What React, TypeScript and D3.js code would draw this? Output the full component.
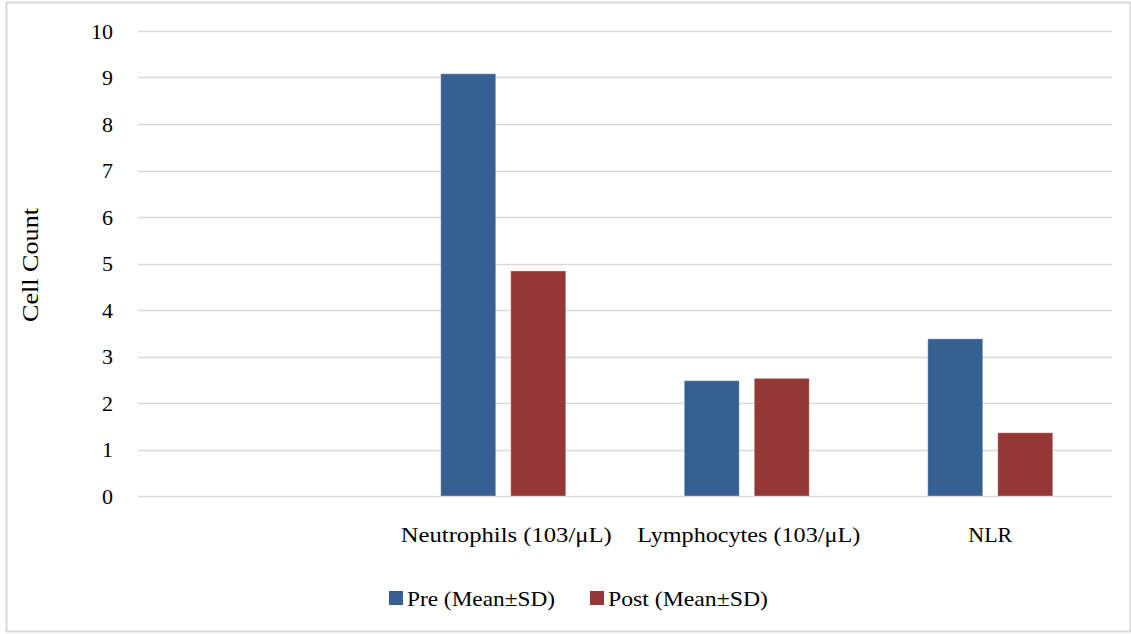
import React, { useEffect } from "react";
import * as d3 from "d3";

const categories = ["", "Neutrophils (103/μL)", "Lymphocytes (103/μL)", "NLR"];
const preValues: (number | null)[] = [null, 9.08, 2.48, 3.38];
const postValues: (number | null)[] = [null, 4.84, 2.53, 1.36];
const seriesNames = ["Pre (Mean±SD)", "Post (Mean±SD)"];
const seriesColors = ["#376092", "#953735"];
const yTicks = [0, 1, 2, 3, 4, 5, 6, 7, 8, 9, 10];

const W = 1131;
const H = 634;
const FONT = "Liberation Serif";

const labelLengths = [0, 211, 223, 44];
const legendLengths = [148, 160];

export default function App() {
  useEffect(() => {
    document.body.style.margin = "0";
  }, []);

  const x = d3.scaleBand<string>().domain(categories.map((c, i) => String(i))).range([138, 1112]);
  const y = d3.scaleLinear().domain([0, 10]).range([496, 31]);
  const bw = x.bandwidth();
  const barW = 55;
  const gap = 15;
  const inner = (bw - (2 * barW + gap)) / 2;
  const series = [preValues, postValues];

  return (
    <svg width={W} height={H} style={{ position: "absolute", left: 0, top: 0, background: "#fff" }}>
      <rect x={6.5} y={2.5} width={1124} height={629} fill="#fff" stroke="#d9d9d9" strokeWidth={2} />
      {yTicks.map((t) => (
        <g key={t}>
          <line x1={138} x2={1112} y1={Math.round(y(t)) + 0.5} y2={Math.round(y(t)) + 0.5} stroke="#d9d9d9" strokeWidth={1.5} />
          <text x={113} y={y(t)} dy="0.35em" textAnchor="end" fontFamily={FONT} fontSize={22} fill="#000">
            {t}
          </text>
        </g>
      ))}
      {series.map((vals, si) =>
        vals.map((v, ci) =>
          v == null ? null : (
            <rect
              key={`${si}-${ci}`}
              x={(x(String(ci)) as number) + inner + si * (barW + gap)}
              y={y(v)}
              width={barW}
              height={y(0) - y(v)}
              fill={seriesColors[si]}
              stroke="#fff"
              strokeOpacity={0.35}
              strokeWidth={1}
            />
          )
        )
      )}
      {categories.map((c, i) =>
        c ? (
          <text
            key={i}
            x={(x(String(i)) as number) + bw / 2 + (i === 2 ? 2 : i === 1 ? 3 : 0)}
            y={542}
            textAnchor="middle"
            fontFamily={FONT}
            fontSize={22}
            fill="#000"
            textLength={labelLengths[i]}
            lengthAdjust="spacingAndGlyphs"
          >
            {c}
          </text>
        ) : null
      )}
      <text
        transform={`translate(38, 265) rotate(-90)`}
        textAnchor="middle"
        fontFamily={FONT}
        fontSize={23}
        fill="#000"
        textLength={114}
        lengthAdjust="spacingAndGlyphs"
      >
        Cell Count
      </text>
      {seriesNames.map((n, i) => {
        const lx = i === 0 ? 389 : 590;
        return (
          <g key={n}>
            <rect x={lx} y={591} width={14} height={14} fill={seriesColors[i]} />
            <text
              x={lx + 18}
              y={606}
              fontFamily={FONT}
              fontSize={22}
              fill="#000"
              textLength={legendLengths[i]}
              lengthAdjust="spacingAndGlyphs"
            >
              {n}
            </text>
          </g>
        );
      })}
    </svg>
  );
}
